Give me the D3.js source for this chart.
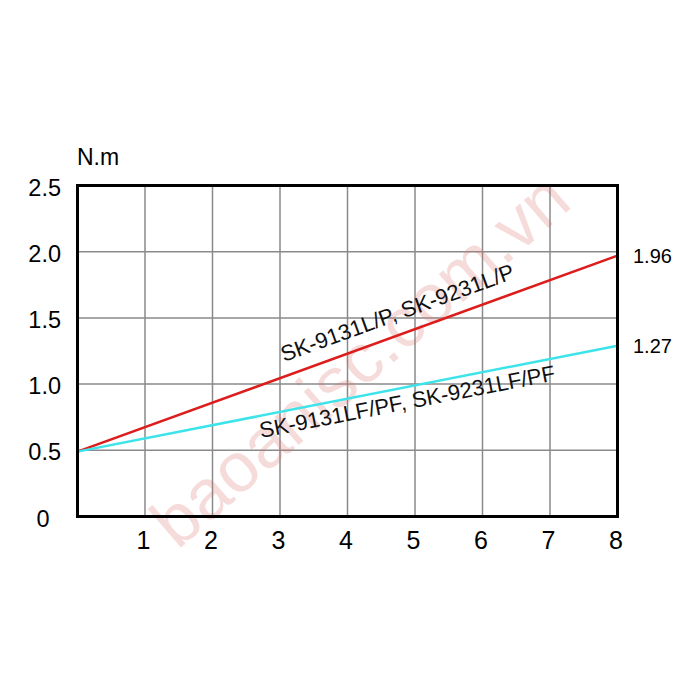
<!DOCTYPE html>
<html>
<head>
<meta charset="utf-8">
<script src="https://cdn.jsdelivr.net/npm/d3@7"></script>
<style>
  html, body { margin: 0; padding: 0; background: #fff; }
  svg { display: block; font-family: "Liberation Sans", Arial, sans-serif; }
</style>
</head>
<body>
<svg id="chart" width="700" height="700"></svg>
<script>
// ---- data ----
const xTicks = [1, 2, 3, 4, 5, 6, 7, 8];
const yTicks = [0, 0.5, 1.0, 1.5, 2.0, 2.5];
const yTickLabels = ["0", "0.5", "1.0", "1.5", "2.0", "2.5"];
const speedX = [0, 8];
const torqueLP = [0.49, 1.97];     // SK-9131L/P, SK-9231L/P
const torqueLFPF = [0.49, 1.29];   // SK-9131LF/PF, SK-9231LF/PF
const seriesNames = ["SK-9131L/P, SK-9231L/P", "SK-9131LF/PF, SK-9231LF/PF"];
const endLabels = ["1.96", "1.27"];
const unitLabel = "N.m";
const watermark = "baoanisc.com.vn";

// ---- layout ----
const svg = d3.select("#chart");
const pL = 77.5, pR = 617.5, pT = 185.5, pB = 516.5;
const x = d3.scaleLinear().domain([0, 8]).range([pL, pR]);
const y = d3.scaleLinear().domain([0, 2.5]).range([pB, pT]);

// grid
svg.append("g").selectAll("line").data(xTicks.slice(0, -1)).join("line")
  .attr("x1", d => x(d)).attr("x2", d => x(d))
  .attr("y1", pT).attr("y2", pB)
  .attr("stroke", "#8a8a8a").attr("stroke-width", 1.5);
svg.append("g").selectAll("line").data(yTicks.slice(1, -1)).join("line")
  .attr("x1", pL).attr("x2", pR)
  .attr("y1", d => y(d)).attr("y2", d => y(d))
  .attr("stroke", "#8a8a8a").attr("stroke-width", 1.5);

// watermark
svg.append("text")
  .attr("transform", "translate(360,360) rotate(-41)")
  .attr("text-anchor", "middle")
  .attr("dominant-baseline", "central")
  .attr("font-size", 70)
  .attr("fill", "rgba(220,110,110,0.25)")
  .text(watermark);

// series lines
const line = d3.line().x(d => x(d[0])).y(d => y(d[1]));
const series = [
  { vals: torqueLP, color: "#dd1c1c" },
  { vals: torqueLFPF, color: "#3ce4ea" }
];
series.forEach(s => {
  svg.append("path")
    .datum(speedX.map((v, i) => [v, s.vals[i]]))
    .attr("d", line)
    .attr("fill", "none")
    .attr("stroke", s.color)
    .attr("stroke-width", 2.5);
});

// frame
svg.append("rect")
  .attr("x", pL).attr("y", pT)
  .attr("width", pR - pL).attr("height", pB - pT)
  .attr("fill", "none").attr("stroke", "#000").attr("stroke-width", 3);

// series labels (rotated along lines)
function angleOf(vals) {
  const dx = x(speedX[1]) - x(speedX[0]);
  const dy = y(vals[1]) - y(vals[0]);
  return Math.atan2(dy, dx) * 180 / Math.PI;
}
svg.append("text")
  .attr("transform", `translate(284,362) rotate(${angleOf(torqueLP)})`)
  .attr("font-size", 22).attr("fill", "#111")
  .text(seriesNames[0]);
svg.append("text")
  .attr("transform", `translate(261,438) rotate(${angleOf(torqueLFPF)})`)
  .attr("font-size", 22).attr("fill", "#111")
  .text(seriesNames[1]);

// end value labels
svg.append("text")
  .attr("x", 633).attr("y", y(torqueLP[1]))
  .attr("dominant-baseline", "central")
  .attr("font-size", 20).attr("fill", "#000")
  .text(endLabels[0]);
svg.append("text")
  .attr("x", 633).attr("y", y(torqueLFPF[1]))
  .attr("dominant-baseline", "central")
  .attr("font-size", 20).attr("fill", "#000")
  .text(endLabels[1]);

// y tick labels
svg.append("g").selectAll("text").data(yTicks).join("text")
  .attr("x", (d, i) => i === 0 ? 43 : 61)
  .attr("y", d => y(d) + 2)
  .attr("text-anchor", (d, i) => i === 0 ? "middle" : "end")
  .attr("dominant-baseline", "central")
  .attr("font-size", 23.5).attr("fill", "#000")
  .text((d, i) => yTickLabels[i]);

// x tick labels
svg.append("g").selectAll("text").data(xTicks).join("text")
  .attr("x", d => x(d) - 1.5)
  .attr("y", 549)
  .attr("text-anchor", "middle")
  .attr("font-size", 25).attr("fill", "#000")
  .text(d => d);

// unit
svg.append("text")
  .attr("x", 77).attr("y", 165)
  .attr("font-size", 23).attr("fill", "#000")
  .text(unitLabel);
</script>
</body>
</html>
